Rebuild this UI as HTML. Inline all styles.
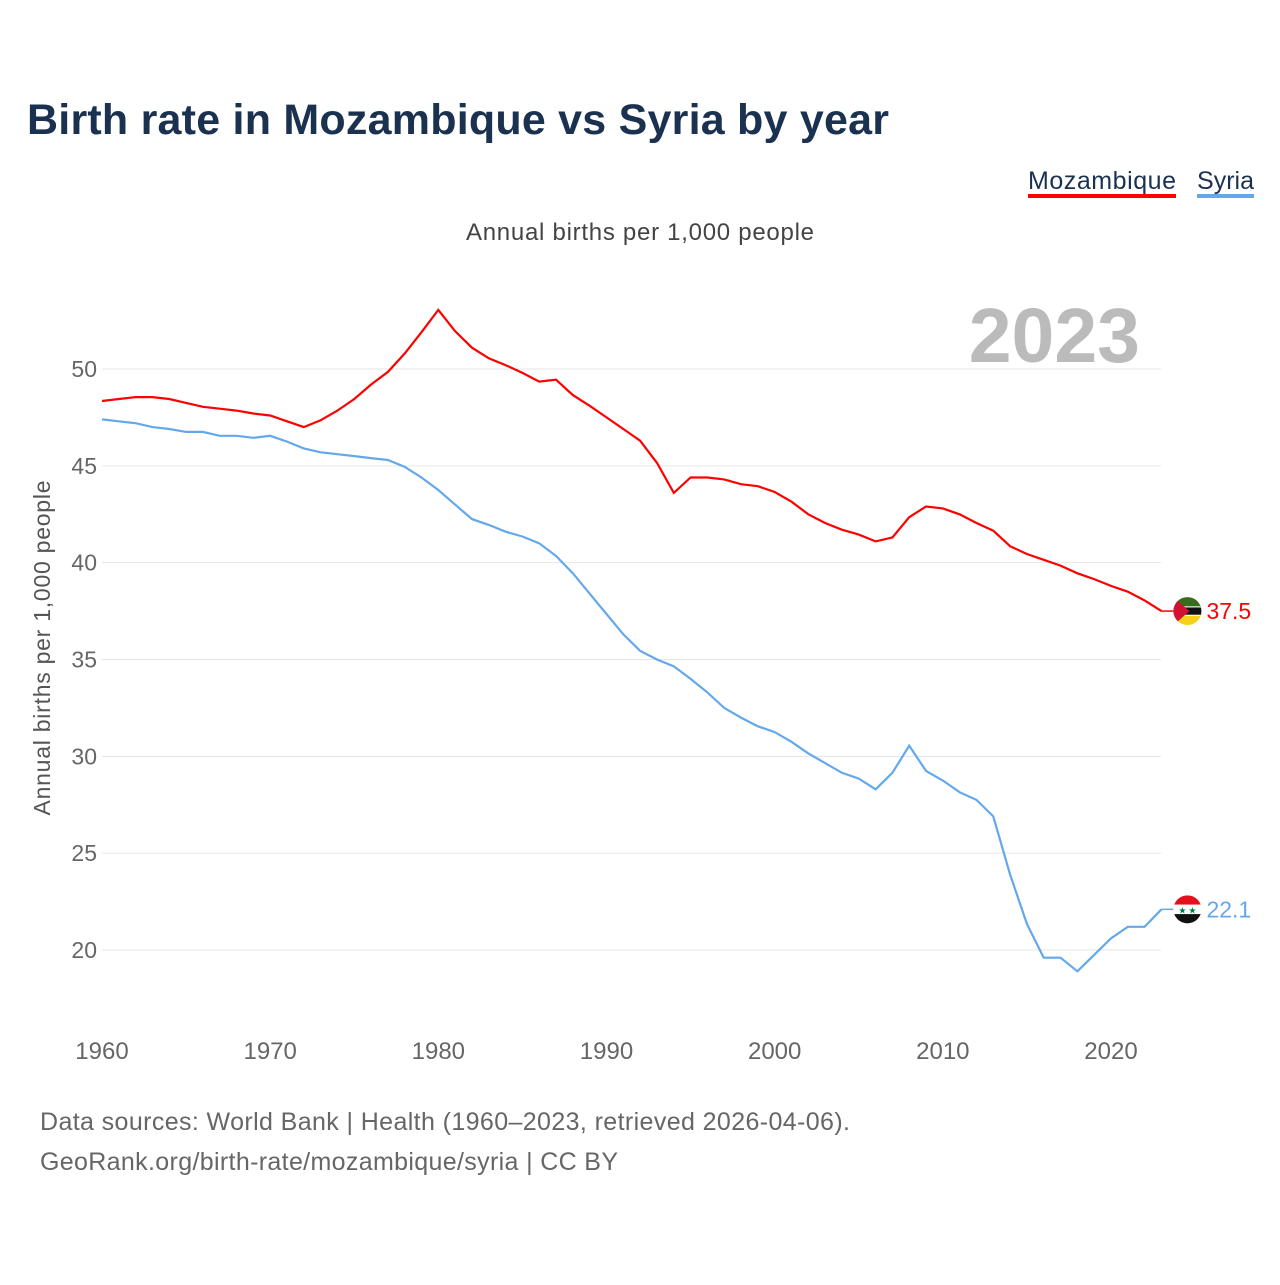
<!DOCTYPE html>
<html><head><meta charset="utf-8"><style>
body{margin:0;background:#fff;font-family:"Liberation Sans",sans-serif;}
</style></head><body>
<svg width="1280" height="1280" xmlns="http://www.w3.org/2000/svg" font-family="Liberation Sans, sans-serif">
<defs>
<clipPath id="cm"><circle cx="0" cy="0" r="14"/></clipPath>
</defs>
<text x="27" y="134" font-size="43" font-weight="bold" fill="#1a3150" textLength="862">Birth rate in Mozambique vs Syria by year</text>
<g>
<text x="1028" y="189" font-size="25" fill="#1a3150" textLength="148">Mozambique</text>
<rect x="1028" y="194" width="148" height="4" fill="#ff0000"/>
<text x="1197" y="189" font-size="25" fill="#1a3150" textLength="57">Syria</text>
<rect x="1197" y="194" width="57" height="4" fill="#64a8ec"/>
</g>
<text x="640" y="240" font-size="24" fill="#444" text-anchor="middle" textLength="348">Annual births per 1,000 people</text>
<text x="1140" y="362" font-size="77" font-weight="bold" fill="#bbb" text-anchor="end">2023</text>
<text transform="translate(50,648) rotate(-90)" font-size="23" fill="#555" text-anchor="middle" textLength="335">Annual births per 1,000 people</text>
<g id="grid"></g><g id="xt"></g><g id="lines"></g>
<text x="40" y="1130" font-size="25" fill="#666" textLength="810">Data sources: World Bank | Health (1960–2023, retrieved 2026-04-06).</text>
<text x="40" y="1170" font-size="25" fill="#666" textLength="578">GeoRank.org/birth-rate/mozambique/syria | CC BY</text>
</svg>
<script>
const years=[];for(let y=1960;y<=2023;y++)years.push(y);
const mozambique=[48.35,48.45,48.55,48.55,48.45,48.25,48.05,47.95,47.85,47.7,47.6,47.3,47.0,47.35,47.85,48.45,49.2,49.85,50.8,51.9,53.05,51.95,51.1,50.55,50.2,49.8,49.35,49.45,48.65,48.1,47.5,46.9,46.3,45.15,43.6,44.4,44.4,44.3,44.05,43.95,43.65,43.15,42.5,42.05,41.7,41.45,41.1,41.3,42.35,42.9,42.8,42.5,42.05,41.65,40.85,40.45,40.15,39.85,39.45,39.15,38.8,38.5,38.05,37.5];
const syria=[47.4,47.3,47.2,47.0,46.9,46.75,46.75,46.55,46.55,46.45,46.55,46.25,45.9,45.7,45.6,45.5,45.4,45.3,44.95,44.4,43.75,43.0,42.25,41.95,41.6,41.35,41.0,40.35,39.45,38.4,37.35,36.3,35.45,35.0,34.65,34.0,33.3,32.5,32.0,31.55,31.25,30.75,30.15,29.65,29.15,28.85,28.3,29.15,30.55,29.25,28.75,28.15,27.75,26.9,23.9,21.35,19.6,19.6,18.9,19.75,20.6,21.2,21.2,22.1];
const yTicks=[20,25,30,35,40,45,50];
const xTicks=[1960,1970,1980,1990,2000,2010,2020];
const NS="http://www.w3.org/2000/svg";
const X=y=>102+(y-1960)*1009/60;
const Y=v=>369+(50-v)*581/30;
function mk(tag,at,parent,txt){const e=document.createElementNS(NS,tag);for(const k in at)e.setAttribute(k,at[k]);if(txt!==undefined)e.textContent=txt;(typeof parent==='string'?document.getElementById(parent):parent).appendChild(e);return e;}
yTicks.forEach(v=>{
 const l=mk('line',{x1:102,x2:1161,y1:Y(v),y2:Y(v),stroke:'#e6e6e6','stroke-width':1},'grid');
 
 
 const t=mk('text',{x:97,y:Y(v)+8,'font-size':23,fill:'#666','text-anchor':'end'},'grid',v);
 
 
});
xTicks.forEach(v=>{
 const t=mk('text',{x:X(v),y:1059,'font-size':24,fill:'#666','text-anchor':'middle'},'xt',v);
 
 
});
const stripes={mozambique:[['#3a6b1e',0.33],['#fff',0.04],['#111',0.26],['#fff',0.04],['#f7d117',0.33]],syria:[['#e4101b',0.33],['#fff',0.34],['#111',0.33]]};
function series(vals,color,name){
 const d=vals.map((v,i)=>(i?'L':'M')+X(years[i]).toFixed(1)+','+Y(v).toFixed(1)).join('');
 const p=mk('path',{d:d,fill:'none',stroke:color,'stroke-width':2.2},'lines');
 
 
 const last=vals[vals.length-1],lx=X(2023),ly=Y(last);
 mk('line',{x1:lx,x2:lx+12,y1:ly,y2:ly,stroke:color,'stroke-width':1.5},'lines');
 const g=mk('g',{transform:'translate('+(lx+26)+','+ly+')','clip-path':'url(#cm)'},'lines');
 
 
 let yy=-14;
 stripes[name].forEach(s=>{mk('rect',{x:-14,y:yy,width:28,height:28*s[1]+0.5,fill:s[0]},g);yy+=28*s[1];});
 if(name==='mozambique')mk('polygon',{points:'-14,-14 2,0 -14,14',fill:'#d21034'},g);
 else{mk('text',{x:-5,y:4,'font-size':9,fill:'#007a3d','text-anchor':'middle'},g,'★');mk('text',{x:5,y:4,'font-size':9,fill:'#007a3d','text-anchor':'middle'},g,'★');}
 const t=mk('text',{x:lx+45,y:ly+8,'font-size':23,fill:color},'lines',last.toFixed(1));
 
 
}
series(mozambique,'#ff0000','mozambique');
series(syria,'#64a8ec','syria');
</script>
</body></html>
